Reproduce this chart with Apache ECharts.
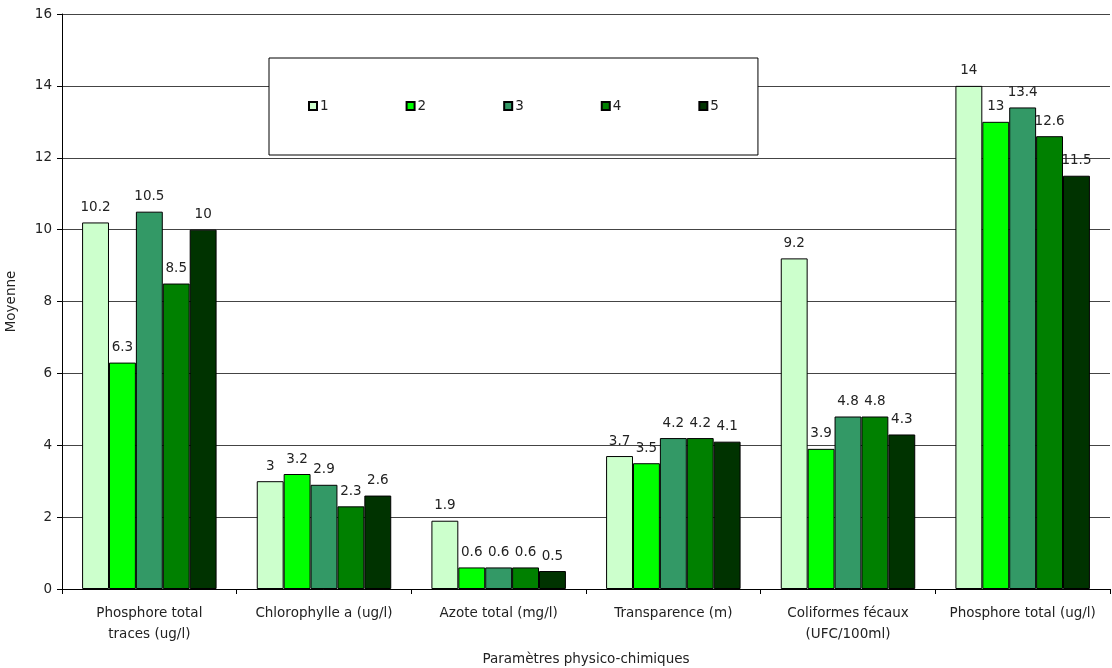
<!DOCTYPE html>
<html><head><meta charset="utf-8">
<script src="https://cdn.jsdelivr.net/npm/echarts@6/dist/echarts.min.js"></script>
<style>html,body{margin:0;padding:0;background:#fff}#c{width:1112px;height:668px}</style>
</head><body><div id="c"></div>
<script>
const categories = ["Phosphore total\ntraces (ug/l)", "Chlorophylle a (ug/l)", "Azote total (mg/l)", "Transparence (m)", "Coliformes fécaux\n(UFC/100ml)", "Phosphore total (ug/l)"];
const seriesNames = ["1", "2", "3", "4", "5"];
const s1 = [10.2, 3, 1.9, 3.7, 9.2, 14];
const s2 = [6.3, 3.2, 0.6, 3.5, 3.9, 13];
const s3 = [10.5, 2.9, 0.6, 4.2, 4.8, 13.4];
const s4 = [8.5, 2.3, 0.6, 4.2, 4.8, 12.6];
const s5 = [10, 2.6, 0.5, 4.1, 4.3, 11.5];
const seriesData = [s1, s2, s3, s4, s5];
const colors = ["#ccffcc", "#00ff00", "#339966", "#008000", "#003300"];
const FONT = "DejaVu Sans";
const FS = 13.5;
const chart = echarts.init(document.getElementById('c'));
chart.setOption({
  animation: false,
  textStyle: {fontFamily: FONT},
  grid: {left: 62, right: 2, top: 14, bottom: 79, containLabel: false, outerBoundsMode: 'none'},
  legend: {
    left: 269, top: 58,
    data: seriesNames,
    icon: 'rect', itemWidth: 8, itemHeight: 8, itemGap: 77,
    padding: [41, 39, 42, 39],
    borderColor: '#000', borderWidth: 1, backgroundColor: '#fff',
    textStyle: {fontFamily: FONT, fontSize: FS, color: '#222', padding: [0, 0, 0, -2]}
  },
  xAxis: {
    type: 'category', data: categories,
    name: 'Paramètres physico-chimiques', nameLocation: 'middle', nameGap: 63,
    nameTextStyle: {fontFamily: FONT, fontSize: FS, color: '#222'},
    axisLine: {lineStyle: {color: '#000'}},
    axisTick: {show: true, alignWithLabel: false, length: 5, lineStyle: {color: '#000'}},
    axisLabel: {color: '#222', fontSize: FS, margin: 14, lineHeight: 21, interval: 0}
  },
  yAxis: {
    type: 'value', min: 0, max: 16, interval: 2,
    name: 'Moyenne', nameLocation: 'middle', nameGap: 44, nameRotate: 90,
    nameTextStyle: {fontFamily: FONT, fontSize: FS, color: '#222'},
    axisLine: {show: true, lineStyle: {color: '#000'}},
    axisTick: {show: true, length: 5, lineStyle: {color: '#000'}},
    axisLabel: {color: '#222', fontSize: FS, margin: 10},
    splitLine: {lineStyle: {color: '#444', width: 1}}
  },
  series: seriesData.map((d, i) => ({
    name: seriesNames[i], type: 'bar', data: d,
    barGap: '0%', barCategoryGap: '23%',
    itemStyle: {color: colors[i], borderColor: '#000', borderWidth: 1},
    label: {show: true, position: 'top', distance: 8, color: '#222', fontSize: FS, fontFamily: FONT}
  }))
});
</script></body></html>
